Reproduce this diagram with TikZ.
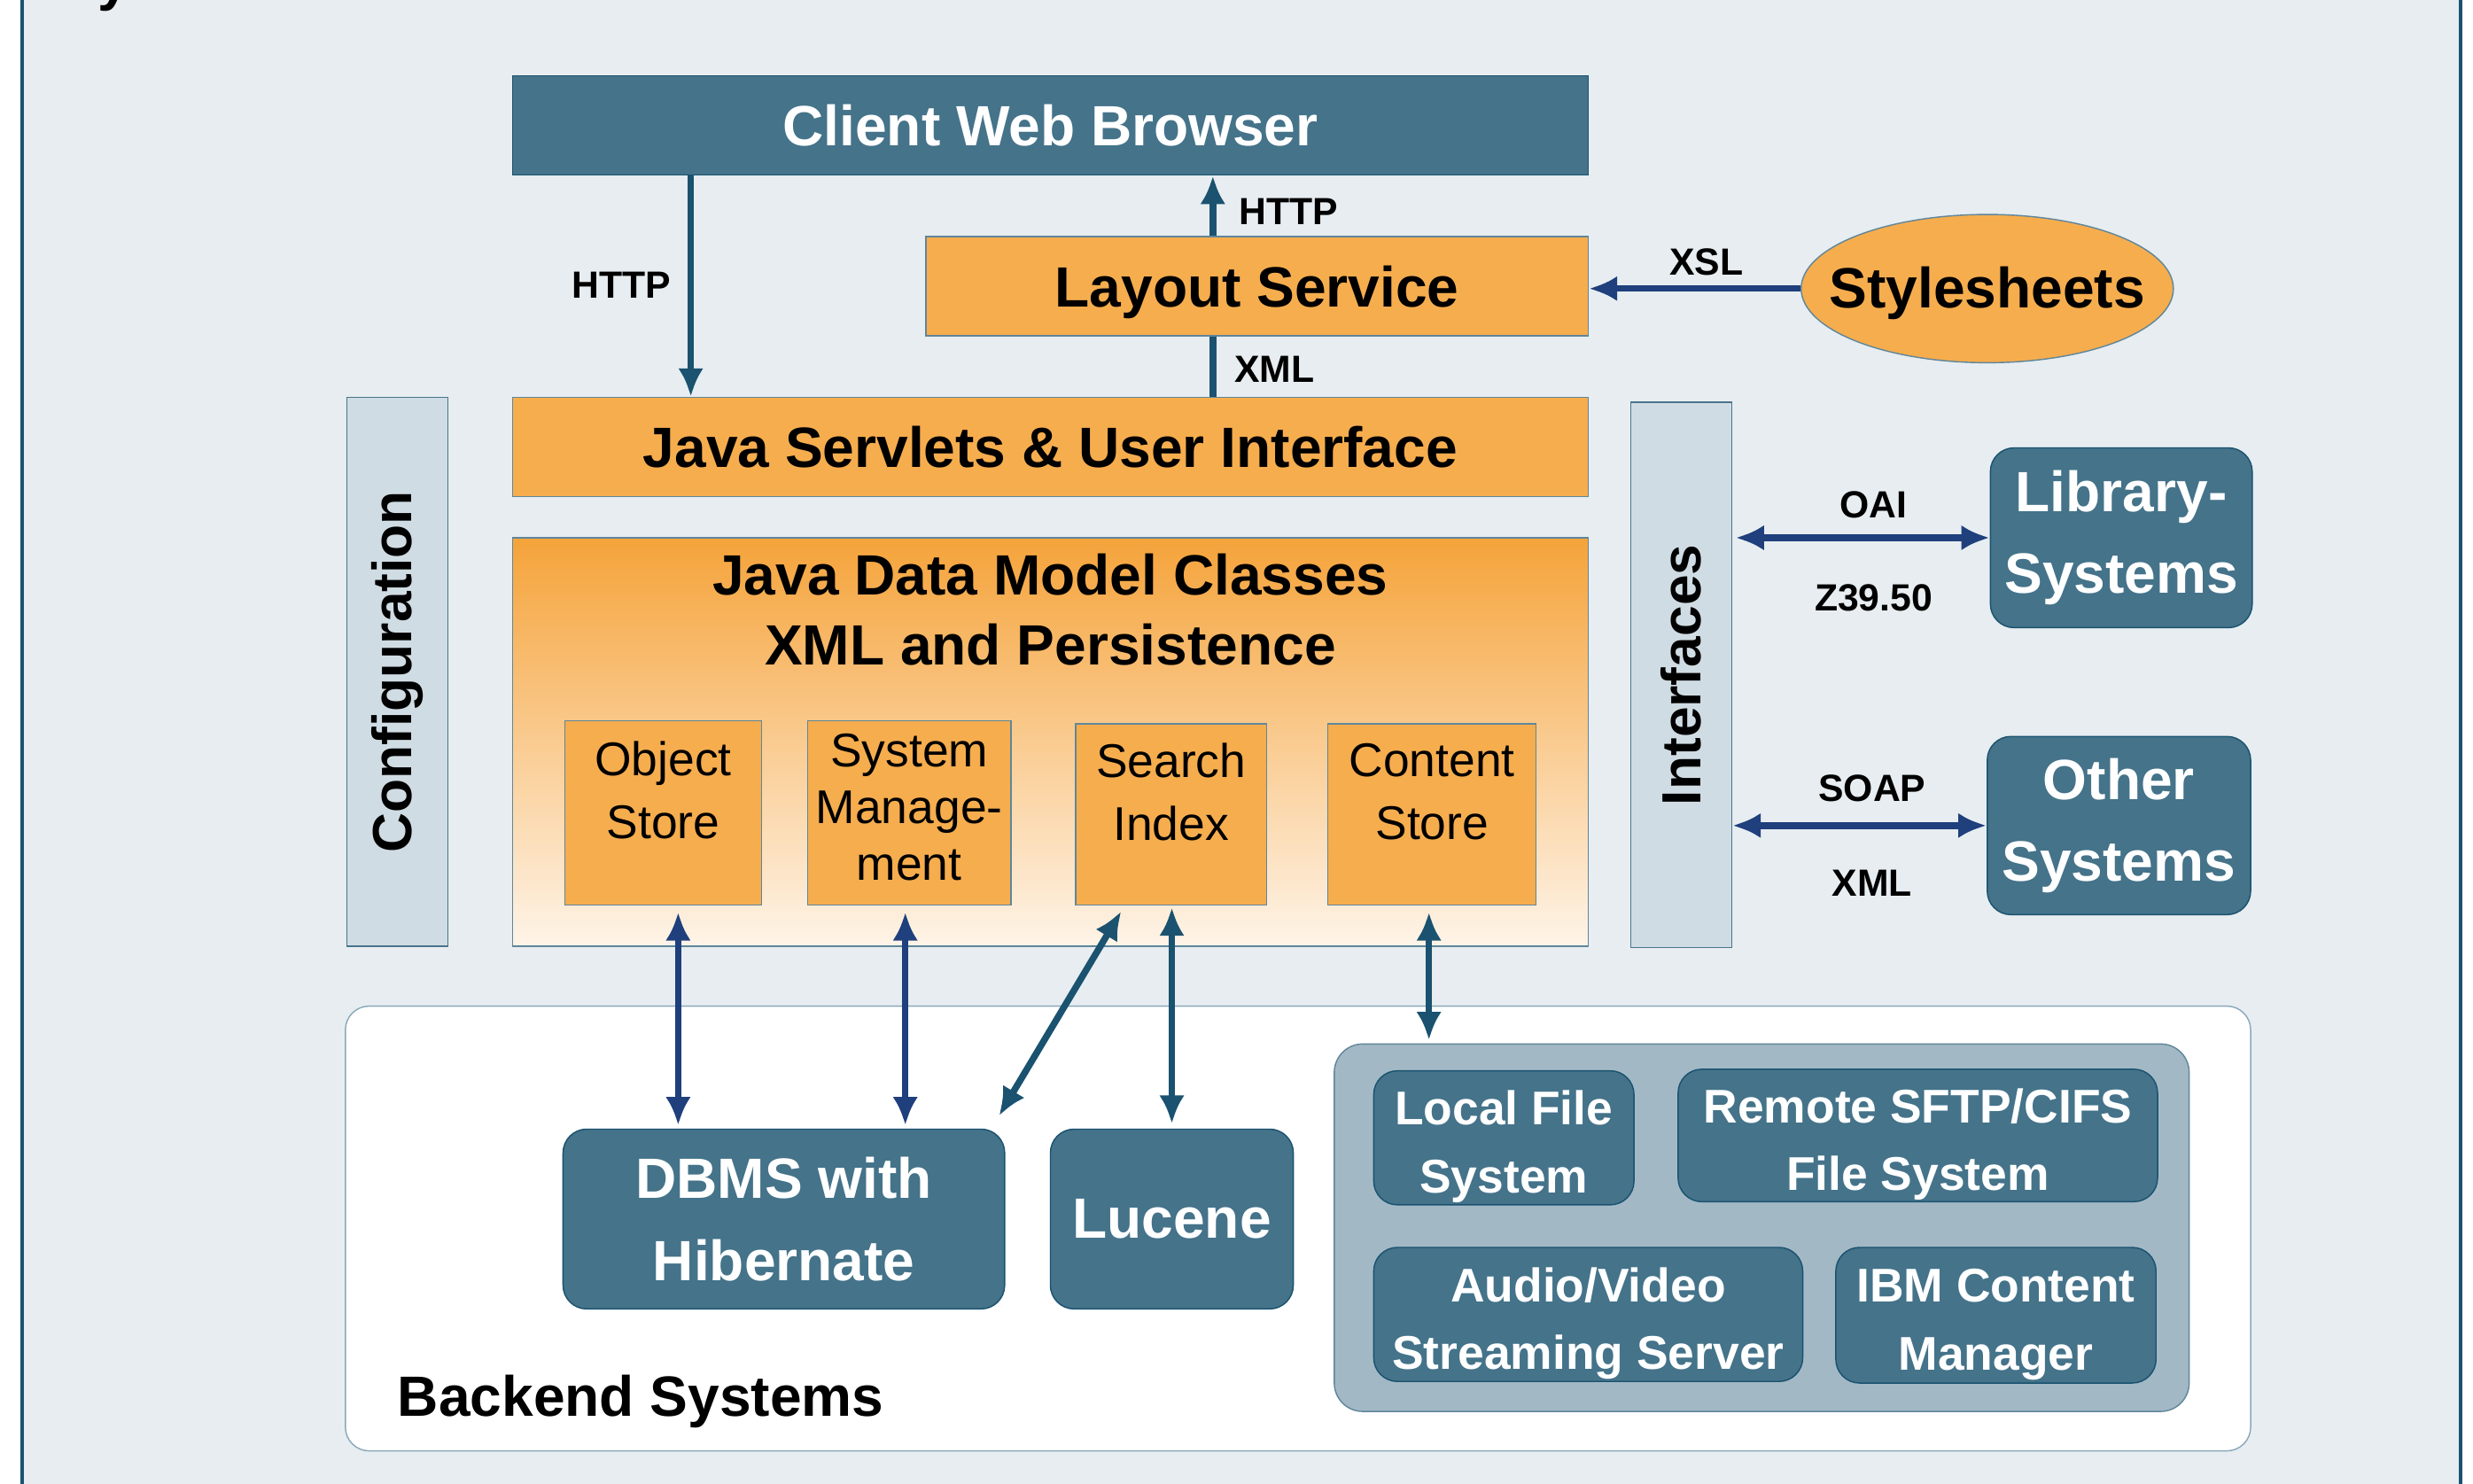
\documentclass[tikz,border=0pt]{standalone}
\usepackage{fontspec}
\setmainfont{Liberation Sans}
\usetikzlibrary{arrows.meta,positioning,shapes.geometric}

\definecolor{framebg}{HTML}{E7EDF0}
\definecolor{steel}{HTML}{44738A}
\definecolor{darkteal}{HTML}{1A5270}
\definecolor{navy}{HTML}{1F3F7D}
\definecolor{sand}{HTML}{F6AD4E}
\definecolor{deepsand}{HTML}{F5A33A}
\definecolor{cream}{HTML}{FEF4E8}
\definecolor{barfill}{HTML}{D0DCE3}
\definecolor{groupfill}{HTML}{A3B8C5}
\definecolor{softline}{HTML}{8AA8BA}

\newcommand{\fsstrut}{\rule{0pt}{33pt}}

\tikzset{
  bluebox/.style={draw=darkteal, line width=0.8pt, fill=steel, text=white, align=center, inner sep=0pt,
    font=\fontsize{36}{52}\selectfont\bfseries},
  roundbox/.style={bluebox, rounded corners=15pt},
  filebox/.style={roundbox, font=\fontsize{30}{43}\selectfont\bfseries},
  orangebox/.style={draw=darkteal!70, line width=0.8pt, fill=sand, align=center, inner sep=0pt,
    font=\fontsize{36}{44}\selectfont\bfseries},
  boxtitle/.style={align=center, inner sep=0pt, font=\fontsize{36}{44}\selectfont\bfseries},
  subtext/.style={align=center, inner sep=0pt, font=\fontsize{30}{40}\selectfont},
  sidebar/.style={draw=darkteal!80, line width=0.8pt, fill=barfill, rotate=90, inner sep=0pt,
    font=\fontsize{35}{40}\selectfont\bfseries},
  proto/.style={inner sep=0pt, font=\fontsize{24}{28}\selectfont\bfseries},
  tealarrow/.style={draw=darkteal, line width=4.2pt, -{Latex[length=18pt,width=16pt]}},
  tealdouble/.style={draw=darkteal, line width=4.2pt, {Latex[length=18pt,width=16pt]}-{Latex[length=18pt,width=16pt]}},
  navyarrow/.style={draw=navy, line width=4.2pt, -{Latex[length=18pt,width=16pt]}},
  navydouble/.style={draw=navy, line width=4.2pt, {Latex[length=18pt,width=16pt]}-{Latex[length=18pt,width=16pt]}},
}

\begin{document}
\begin{tikzpicture}[x=1pt,y=-1pt]
\useasboundingbox (0,0) rectangle (1568,941);
% frame
\fill[framebg] (14,-5) rectangle (1560,946);
\draw[darkteal, line width=2.2pt] (14,-5) -- (14,946);
\draw[darkteal, line width=2.2pt] (1560,-5) -- (1560,946);
\node[anchor=base west, inner sep=0pt, font=\fontsize{36}{40}\selectfont\bfseries] (title) at (62,0) {y};

% backend area
\node[draw=softline, line width=0.8pt, fill=white, rounded corners=15pt,
  minimum width=1208pt, minimum height=282pt] (backend) at (823,779) {};
\node[anchor=west, inner sep=0pt, font=\fontsize{36}{40}\selectfont\bfseries] (backendtxt) at (252,889) {Backend Systems};

% web layer
\node[bluebox, minimum width=682pt, minimum height=63pt] (browser) at (666,79.5) {Client Web Browser};
\node[orangebox, minimum width=420pt, minimum height=63pt, text depth=0pt] (layout) at (797,181.5) {Layout Service};
\node[orangebox, ellipse, minimum width=236pt, minimum height=94pt] (sheets) at (1260,183) {};
\node[boxtitle] (sheetstxt) at ([yshift=-3pt]sheets.center) {Stylesheets};
\node[orangebox, minimum width=682pt, minimum height=63pt] (servlets) at (666,283.5) {Java Servlets \& User Interface};

% data model
\node[orangebox, top color=deepsand, bottom color=cream, minimum width=682pt, minimum height=259pt] (model) at (666,470.5) {};
\node[boxtitle] (modeltxt) at (666,386.5) {Java Data Model Classes\\XML and Persistence};
\node[orangebox, minimum width=125pt, minimum height=117pt] (objbox) at (420.5,515.5) {};
\node[subtext] (objtxt) at ([yshift=14.5pt]objbox.center) {Object\\Store};
\node[orangebox, minimum width=129pt, minimum height=117pt] (sysbox) at (576.5,515.5) {};
\node[subtext, font=\fontsize{30}{36}\selectfont] (systxt) at ([yshift=3.5pt]sysbox.center) {System\\Manage-\\ment};
\node[orangebox, minimum width=121pt, minimum height=115pt] (searchbox) at (742.5,516.5) {};
\node[subtext] (searchtxt) at ([yshift=14.5pt]searchbox.center) {Search\\Index};
\node[orangebox, minimum width=132pt, minimum height=115pt] (contentbox) at (908,516.5) {};
\node[subtext] (contenttxt) at ([yshift=14.5pt]contentbox.center) {Content\\Store};

% side bars
\node[sidebar, minimum width=348pt, minimum height=64pt] (config) at (252,426) {Configuration};
\node[sidebar, minimum width=346pt, minimum height=64pt] (ifaces) at (1066,428) {Interfaces};

% external systems
\node[roundbox, minimum width=166pt, minimum height=114pt] (library) at (1345,341) {Library-\\Systems};
\node[roundbox, minimum width=167pt, minimum height=113pt] (other) at (1343.5,523.5) {Other\\Systems};

% backends
\node[roundbox, minimum width=280pt, minimum height=114pt] (dbms) at (497,773) {DBMS with\\Hibernate};
\node[roundbox, minimum width=154pt, minimum height=114pt] (lucene) at (743,773) {Lucene};
\node[draw=darkteal!70, line width=0.8pt, fill=groupfill, rounded corners=18pt,
  minimum width=542pt, minimum height=233pt] (files) at (1117,778.5) {};
\node[filebox, minimum width=165pt, minimum height=85pt] (localfs) at (953.5,721.5) {\fsstrut Local File\\System};
\node[filebox, minimum width=304pt, minimum height=84pt] (remotefs) at (1216,720) {\fsstrut Remote SFTP/CIFS\\File System};
\node[filebox, minimum width=272pt, minimum height=85pt] (stream) at (1007,833.5) {\fsstrut Audio/Video\\Streaming Server};
\node[filebox, minimum width=203pt, minimum height=86pt] (ibmcm) at (1265.5,834) {\fsstrut IBM Content\\Manager};

% connectors
\draw[tealarrow] ([xshift=-228pt]browser.south) -- ([xshift=-228pt]servlets.north);
\node[proto] (http1) at (394,181) {HTTP};
\draw[tealarrow] ([xshift=-28pt]layout.north) -- ([xshift=-28pt]layout.north |- browser.south);
\node[proto] (http2) at (817,134) {HTTP};
\draw[darkteal, line width=4.2pt] ([xshift=-28pt]layout.south) -- ([xshift=-28pt]layout.south |- servlets.north);
\node[proto] (xml1) at (808,234) {XML};
\draw[navyarrow] (sheets.west) -- (sheets.west -| layout.east);
\node[proto] (xsl) at (1082,166) {XSL};

\draw[navydouble, shorten <=2pt] (library.west -| ifaces.south) -- (library.west);
\node[proto] (oai) at (1188,320) {OAI};
\node[proto] (z3950) at (1188,379) {Z39.50};
\draw[navydouble] (other.west -| ifaces.south) -- (other.west);
\node[proto] (soap) at (1187,500) {SOAP};
\node[proto] (xml2) at (1187,560) {XML};

\draw[navydouble, shorten <=4pt, shorten >=2pt] ([xshift=9.5pt]objbox.south) -- ([xshift=9.5pt]objbox.south |- dbms.north);
\draw[navydouble, shorten <=4pt, shorten >=2pt] ([xshift=-2.5pt]sysbox.south) -- ([xshift=-2.5pt]sysbox.south |- dbms.north);
\draw[tealdouble, shorten <=4pt] ([xshift=-29.5pt]searchbox.south) -- ([xshift=-4pt,yshift=8pt]dbms.north east);
\draw[tealdouble, shorten <=1pt, shorten >=3pt] (searchbox.south -| lucene.north) -- (lucene.north);
\draw[tealdouble, shorten <=4pt, shorten >=2pt] ([xshift=-2pt]contentbox.south) -- ([xshift=-2pt]contentbox.south |- files.north);
\end{tikzpicture}
\end{document}
